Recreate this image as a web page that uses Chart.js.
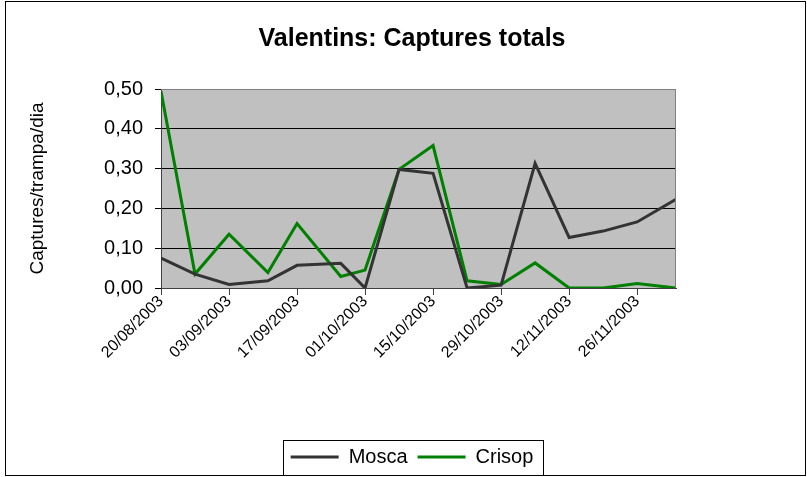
<!DOCTYPE html>
<html>
<head>
<meta charset="utf-8">
<script src="https://cdn.jsdelivr.net/npm/chart.js@4.4.1/dist/chart.umd.min.js"></script>
<style>
  html, body { margin: 0; padding: 0; background: #fff; }
  #wrap { width: 807px; height: 477px; }
</style>
</head>
<body>
<div id="wrap"><canvas id="grafic"></canvas></div>
<script>
// dates de mostreig
const dates = ['20/08/2003', '27/08/2003', '03/09/2003', '11/09/2003', '17/09/2003', '26/09/2003',
  '01/10/2003', '08/10/2003', '15/10/2003', '22/10/2003', '29/10/2003', '05/11/2003',
  '12/11/2003', '19/11/2003', '26/11/2003', '04/12/2003'];
const mosca = [0.075, 0.035, 0.009, 0.018, 0.057, 0.062, 0.0, 0.298, 0.288, 0.0, 0.007, 0.313, 0.127, 0.143, 0.166, 0.223];
const crisop = [0.494, 0.035, 0.135, 0.039, 0.162, 0.029, 0.045, 0.298, 0.358, 0.018, 0.009, 0.063, 0.0, 0.0, 0.011, 0.0];
const yTicks = [0, 0.1, 0.2, 0.3, 0.4, 0.5];

// dies des de la primera data
function toDate(s) {
    const p = s.split('/');
    return Date.UTC(+p[2], +p[1] - 1, +p[0]);
}
const t0 = toDate(dates[0]);
const dayOf = s => Math.round((toDate(s) - t0) / 86400000);
const dayLabel = d => {
    const dt = new Date(t0 + d * 86400000);
    const dd = String(dt.getUTCDate()).padStart(2, '0');
    const mm = String(dt.getUTCMonth() + 1).padStart(2, '0');
    return dd + '/' + mm + '/' + dt.getUTCFullYear();
};

const punts = arr => arr.map((v, i) => ({x: dayOf(dates[i]), y: v}));

Chart.defaults.font.family = "'Liberation Sans', Arial, sans-serif";
Chart.defaults.color = '#000';

// fons gris i marc
const fonsPlugin = {
    id: 'fons',
    beforeDraw(chart) {
        const {ctx, chartArea: a} = chart;
        ctx.save();
        ctx.fillStyle = '#fff';
        ctx.fillRect(0, 0, chart.width, chart.height);
        ctx.fillStyle = '#C0C0C0';
        ctx.fillRect(a.left, a.top, a.right - a.left, a.bottom - a.top);
        ctx.restore();
    },
    afterDraw(chart) {
        const {ctx, chartArea: a, legend} = chart;
        ctx.save();
        ctx.strokeStyle = '#808080';
        ctx.lineWidth = 1;
        ctx.beginPath();
        ctx.moveTo(a.left, a.top + 0.5);
        ctx.lineTo(a.right - 0.5, a.top + 0.5);
        ctx.lineTo(a.right - 0.5, a.bottom);
        ctx.stroke();
        // caixa de la llegenda
        const hb = legend.legendHitBoxes;
        if (hb && hb.length) {
            const last = hb[hb.length - 1];
            const l = Math.round(hb[0].left - 8) + 0.5;
            const r = Math.round(last.left + last.width + 10) + 0.5;
            ctx.strokeStyle = '#000';
            ctx.strokeRect(l, legend.top + 3.5, r - l, chart.height - legend.top - 5);
        }
        // marc exterior
        ctx.strokeStyle = '#000';
        ctx.strokeRect(5.5, 1.5, 800, 474);
        ctx.restore();
    }
};

new Chart(document.getElementById('grafic'), {
    type: 'line',
    data: {
        datasets: [{
            label: 'Mosca',
            data: punts(mosca),
            borderColor: '#333333',
            backgroundColor: '#333333',
            borderWidth: 3,
            pointRadius: 0,
            tension: 0
        }, {
            label: 'Crisop',
            data: punts(crisop),
            borderColor: '#008000',
            backgroundColor: '#008000',
            borderWidth: 3,
            pointRadius: 0,
            tension: 0
        }]
    },
    options: {
        responsive: true,
        maintainAspectRatio: false,
        animation: false,
        layout: { padding: { left: 17, right: 0, top: 0, bottom: 0 } },
        scales: {
            x: {
                type: 'linear',
                min: 0,
                max: dayOf(dates[dates.length - 1]),
                afterFit: s => { s.height = 149; },
                border: { color: '#404040', width: 1 },
                grid: { drawOnChartArea: false, tickLength: 7, tickColor: '#404040' },
                ticks: {
                    stepSize: 14,
                    includeBounds: false,
                    autoSkip: false,
                    minRotation: 45,
                    maxRotation: 45,
                    font: { size: 16 },
                    padding: -3,
                    callback: v => dayLabel(v)
                }
            },
            y: {
                min: 0,
                max: 0.5,
                afterFit: s => { s.width = 144; },
                afterBuildTicks: s => { s.ticks = yTicks.map(v => ({value: v})); },
                border: { color: '#404040', width: 1 },
                grid: {
                    color: c => c.tick.value === 0.5 ? '#808080' : '#000',
                    tickLength: 6,
                    tickColor: '#000'
                },
                ticks: {
                    font: { size: 20 },
                    padding: 12,
                    callback: v => v.toFixed(2).replace('.', ',')
                },
                title: {
                    display: true,
                    text: 'Captures/trampa/dia',
                    font: { size: 19 },
                    padding: { top: 9, bottom: 0 }
                }
            },
            dreta: {
                position: 'right',
                afterFit: s => { s.width = 131; },
                border: { display: false },
                grid: { display: false },
                ticks: { display: false }
            }
        },
        plugins: {
            title: {
                display: true,
                text: 'Valentins: Captures totals',
                font: { size: 25, weight: 'bold' },
                padding: { top: 24, bottom: 35 }
            },
            legend: {
                position: 'bottom',
                labels: {
                    usePointStyle: true,
                    pointStyle: 'line',
                    pointStyleWidth: 48,
                    font: { size: 20 },
                    padding: 10,
                    color: '#000'
                }
            },
            tooltip: { enabled: false }
        }
    },
    plugins: [fonsPlugin]
});
</script>
</body>
</html>
